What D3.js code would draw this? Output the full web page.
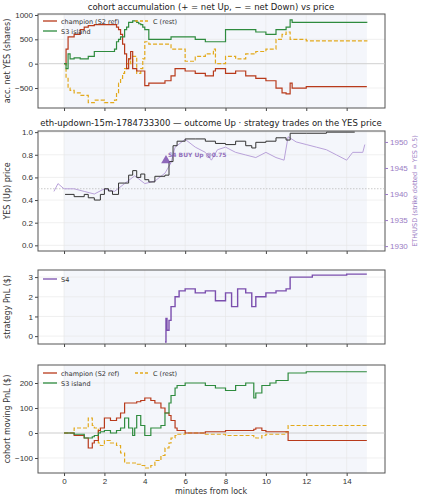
<!DOCTYPE html><html><head><meta charset="utf-8">
<script src="https://cdn.jsdelivr.net/npm/d3@7"></script>
<style>body{margin:0;background:#fff}svg{font-family:"DejaVu Sans",sans-serif}</style></head><body>
<svg id="c" width="421" height="500"></svg>
<script>
// ---- data ----
const accT=[0,0.1,0.2,0.3,0.5,0.8,1,1.2,1.5,2,2.5,2.6,2.7,2.8,2.9,3,3.1,3.2,3.3,3.4,3.5,3.6,3.7,3.8,3.9,4,4.2,4.5,5,5.3,5.5,6,6.5,7,7.4,7.5,8,8.5,9,9.5,10,10.5,10.8,11,11.2,11.3,12,15];
const accChamp=[0,300,550,550,600,700,750,780,800,800,800,750,700,600,400,200,-100,100,250,-100,-100,-150,-150,-150,-150,-450,-400,-400,-350,-250,-100,-150,-200,-250,-150,-100,-200,-150,-250,-300,-350,-500,-600,-620,-400,-500,-470,-470];
const accS3=[0,-100,200,100,120,100,100,150,250,250,300,450,500,550,550,700,750,850,850,880,880,850,820,800,750,700,500,500,500,550,550,550,500,450,450,450,700,700,700,650,600,700,700,750,900,850,850,840];
const accC=[0,-300,-500,-550,-600,-650,-650,-800,-750,-800,-750,-600,-400,-300,-200,-100,0,100,0,150,150,-200,-200,-100,100,450,400,400,400,300,300,50,150,200,300,0,150,100,200,250,300,500,600,650,500,500,470,480];
const yesT=[0.05,0.5,1,1.2,1.5,1.8,2,2.2,2.4,2.7,3,3.2,3.4,3.6,3.8,4,4.2,4.5,5,5.2,5.4,5.6,6,6.5,7,7.5,8,8.5,9,9.3,9.5,10,10.5,11,11.2,12,13,14.4];
const yesP=[0.45,0.43,0.45,0.42,0.40,0.45,0.50,0.48,0.45,0.55,0.55,0.62,0.66,0.60,0.63,0.58,0.56,0.61,0.62,0.74,0.88,0.92,0.94,0.94,0.92,0.90,0.89,0.92,0.88,0.86,0.91,0.92,0.95,0.93,0.99,0.99,1.0,1.0];
const ethT=[-0.5,-0.3,0,0.5,1,1.5,2,2.5,3,3.5,4,4.5,5,5.3,5.5,6,6.5,7,7.3,7.6,8,8.5,9,9.5,10,10.5,10.9,11.1,11.5,12,12.5,13,13.5,14,14.3,14.8,14.9];
const ethP=[1940.5,1942,1941,1941,1940.5,1940,1941,1940.5,1942,1943.5,1942,1942.5,1944,1946,1949,1950.5,1949,1948,1946.5,1948.5,1949,1948,1947.5,1947,1948,1947,1946.5,1951,1950,1949.5,1949,1948.5,1947.5,1946.5,1948,1948,1949.5];
const trade={t:5.05,p:0.75,label:"S4 BUY Up @0.75"};
const s4T=[5,5.05,5.1,5.2,5.3,5.5,5.7,6,6.5,7,7.5,8,8.3,8.6,9,9.3,9.5,10,10.5,11,11.2,12,12.3,13,14,15];
const s4P=[-0.3,0.9,0.3,0.8,1.5,2.0,2.3,2.4,2.2,2.3,1.8,2.2,1.5,2.4,2.2,1.5,2.0,2.2,2.3,2.4,3.0,3.0,3.1,3.1,3.15,3.15];
const pnlT=[0,0.5,1,1.2,1.4,1.5,1.7,1.8,2,2.3,2.5,2.6,2.8,3,3.2,3.4,3.5,3.6,3.8,4,4.3,4.5,4.8,5,5.2,5.3,5.5,5.6,6,7,7.5,8,8.5,9,9.4,9.5,9.8,10,10.2,10.5,11,11.1,12,15];
const pnlChamp=[0,-10,-20,-60,-40,-30,10,20,60,50,50,60,80,120,120,120,120,125,130,140,130,120,100,80,70,50,20,10,0,5,5,10,10,10,15,20,10,5,5,5,5,-30,-30,-30];
const pnlS3=[0,-5,-20,-20,-15,-10,0,5,10,0,0,10,20,60,20,-10,20,70,30,-10,20,20,30,80,120,150,180,190,200,190,180,170,190,200,140,160,190,190,200,210,210,240,245,245];
const pnlC=[0,20,20,60,30,20,-40,-50,-30,-40,-40,-50,-80,-120,-120,-120,-120,-125,-130,-140,-130,-110,-90,-60,-40,-20,-10,-5,0,-5,-5,-10,-10,-10,-15,-20,-10,-5,-5,-5,5,30,30,35];
const xTicks=[0,2,4,6,8,10,12,14];
const ethTicks=[1930,1935,1940,1945,1950];
// ---- drawing ----
const svg=d3.select("#c");
const L=38,R=385;
const x=d3.scaleLinear().domain([-1.29,15.9]).range([L,R]);
const RED="#b83a1b",GRN="#2e8b3e",YEL="#e2a91c",PUR="#7b4fae",ETHC="#b9a2da";
function panel(top,bot,ydom,yticks,fmt,ylabel,showX){
  const y=d3.scaleLinear().domain(ydom).range([bot,top]);
  const g=svg.append("g");
  g.append("rect").attr("x",x(0)).attr("y",top).attr("width",x(15)-x(0)).attr("height",bot-top).attr("fill","#f4f6fb");
  yticks.forEach(v=>g.append("line").attr("x1",L).attr("x2",R).attr("y1",y(v)).attr("y2",y(v)).attr("stroke","#e6e6e6").attr("stroke-width",0.6));
  xTicks.forEach(v=>g.append("line").attr("x1",x(v)).attr("x2",x(v)).attr("y1",top).attr("y2",bot).attr("stroke","#e6e6e6").attr("stroke-width",0.6));
  const ya=g.append("g").attr("transform",`translate(${L},0)`).call(d3.axisLeft(y).tickValues(yticks).tickFormat(fmt).tickSize(3).tickPadding(2));
  const xa=g.append("g").attr("transform",`translate(0,${bot})`).call(d3.axisBottom(x).tickValues(xTicks).tickFormat(showX?d3.format("d"):"").tickSize(3).tickPadding(2));
  [ya,xa].forEach(a=>{a.select(".domain").remove();a.selectAll("text").attr("font-size",8).attr("fill","#333");a.selectAll("line").attr("stroke","#444");});
  g.append("rect").attr("x",L).attr("y",top).attr("width",R-L).attr("height",bot-top).attr("fill","none").attr("stroke","#555").attr("stroke-width",1);
  g.append("text").attr("transform",`translate(10,${(top+bot)/2}) rotate(-90)`).attr("text-anchor","middle").attr("font-size",8).attr("fill","#333").text(ylabel);
  return {y,g};
}
function line(g,T,V,y,color,opts={}){
  const gen=d3.line().x((d,i)=>x(T[i])).y(d=>y(d)).curve(opts.step===false?d3.curveLinear:d3.curveStepAfter);
  g.append("path").attr("d",gen(V)).attr("fill","none").attr("stroke",color).attr("stroke-width",opts.w||1.2).attr("stroke-dasharray",opts.dash||null);
}
function legend(g,x0,y0,items){
  items.forEach((it,i)=>{const cx=x0+it.col*92, cy=y0+it.row*10;
    g.append("line").attr("x1",cx).attr("x2",cx+14).attr("y1",cy).attr("y2",cy).attr("stroke",it.c).attr("stroke-width",1.3).attr("stroke-dasharray",it.dash||null);
    g.append("text").attr("x",cx+18).attr("y",cy+2.5).attr("font-size",6.5).attr("fill","#333").text(it.t);});
}
const legItems=[{t:"champion (S2 ref)",c:RED,row:0,col:0},{t:"S3 island",c:GRN,row:1,col:0},{t:"C (rest)",c:YEL,row:0,col:1,dash:"3,2"}];
// panel 1
svg.append("text").attr("x",211).attr("y",10).attr("text-anchor","middle").attr("font-size",8.5).attr("fill","#222").text("cohort accumulation (+ = net Up, − = net Down) vs price");
const p1=panel(14,108,[-910,1020],[-500,0,500,1000],d3.format("d"),"acc. net YES (shares)",false);
p1.g.append("line").attr("x1",L).attr("x2",R).attr("y1",p1.y(0)).attr("y2",p1.y(0)).attr("stroke","#ccc").attr("stroke-width",0.8);
line(p1.g,accT,accC,p1.y,YEL,{dash:"4,2"});line(p1.g,accT,accChamp,p1.y,RED);line(p1.g,accT,accS3,p1.y,GRN);
legend(p1.g,43,21,legItems);
// panel 2
svg.append("text").attr("x",211).attr("y",126).attr("text-anchor","middle").attr("font-size",8.5).attr("fill","#222").text("eth-updown-15m-1784733300 — outcome Up · strategy trades on the YES price");
const p2=panel(131,251,[-0.05,1.01],[0,0.2,0.4,0.6,0.8,1.0],d3.format(".1f"),"YES (Up) price",false);
const yE=d3.scaleLinear().domain([1929.06,1952.1]).range([251,131]);
const ra=svg.append("g").attr("transform",`translate(${R},0)`).call(d3.axisRight(yE).tickValues(ethTicks).tickFormat(d3.format("d")).tickSize(3).tickPadding(2));
ra.select(".domain").remove();ra.selectAll("text").attr("font-size",8).attr("fill","#9a7cc4");ra.selectAll("line").attr("stroke","#9a7cc4");
svg.append("text").attr("transform",`translate(417,191) rotate(-90)`).attr("text-anchor","middle").attr("font-size",6.5).attr("fill","#9a7cc4").text("ETH/USD (strike dotted = YES 0.5)");
p2.g.append("line").attr("x1",L).attr("x2",R).attr("y1",p2.y(0.5)).attr("y2",p2.y(0.5)).attr("stroke","#bbb").attr("stroke-dasharray","1.5,1.5").attr("stroke-width",0.8);
line(p2.g,ethT,ethP,yE,ETHC,{step:false,w:1});
line(p2.g,yesT,yesP,p2.y,"#333",{w:1});
const tx=x(trade.t),ty=p2.y(trade.p);
p2.g.append("path").attr("d",d3.symbol(d3.symbolTriangle,40)()).attr("transform",`translate(${tx},${ty})`).attr("fill",PUR).attr("opacity",0.85);
p2.g.append("text").attr("x",tx+2).attr("y",ty-3).attr("font-size",6).attr("font-weight","bold").attr("fill",PUR).attr("opacity",0.8).text(trade.label);
// panel 3
const p3=panel(270,344,[-0.4,3.36],[0,1,2,3],d3.format("d"),"strategy PnL ($)",false);
line(p3.g,s4T,s4P,p3.y,PUR,{w:1.4});
legend(p3.g,43,279,[{t:"S4",c:PUR,row:0,col:0}]);
// panel 4
const p4=panel(365,473,[-160,272],[-100,0,100,200],d3.format("d"),"cohort moving PnL ($)",true);
p4.g.append("line").attr("x1",L).attr("x2",R).attr("y1",p4.y(0)).attr("y2",p4.y(0)).attr("stroke","#ccc").attr("stroke-width",0.8);
line(p4.g,pnlT,pnlC,p4.y,YEL,{dash:"4,2"});line(p4.g,pnlT,pnlChamp,p4.y,RED);line(p4.g,pnlT,pnlS3,p4.y,GRN);
legend(p4.g,43,373,legItems);
svg.append("text").attr("x",211).attr("y",494).attr("text-anchor","middle").attr("font-size",8).attr("fill","#333").text("minutes from lock");
</script></body></html>
